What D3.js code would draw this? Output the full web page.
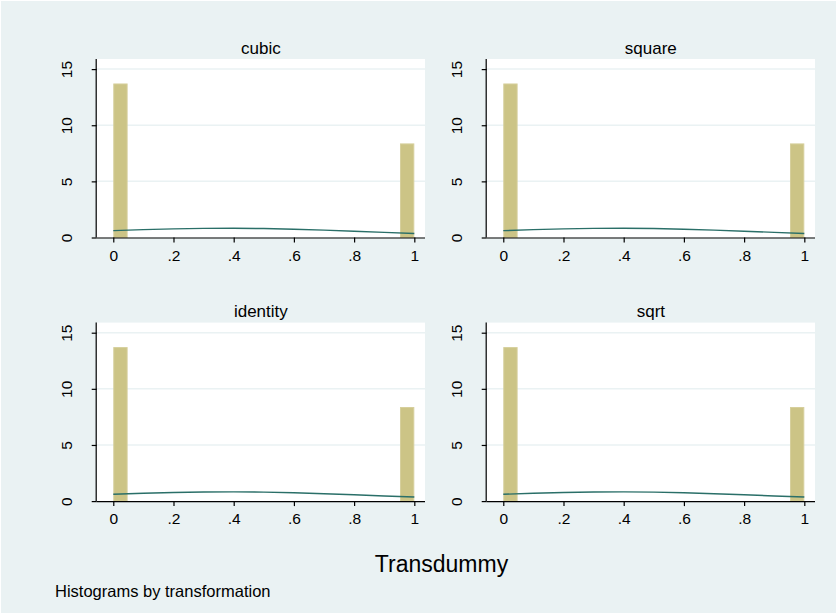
<!DOCTYPE html>
<html>
<head>
<meta charset="utf-8">
<script src="https://cdn.jsdelivr.net/npm/d3@7"></script>
<style>
html,body{margin:0;padding:0;background:#fff;}
svg{display:block;}
text{font-family:"Liberation Sans", Arial, sans-serif; fill:#000;}
</style>
</head>
<body>
<svg id="chart" width="836" height="613"></svg>
<script>
// ---- data ----
const transformations = ["cubic", "square", "identity", "sqrt"];
const binStarts = [0, 0.9524];
const binWidth = 0.0476;
const densities = {
  cubic:    [13.72, 8.38],
  square:   [13.72, 8.38],
  identity: [13.72, 8.38],
  sqrt:     [13.72, 8.38]
};
const normalX = [0, 0.1, 0.2, 0.3, 0.4, 0.5, 0.6, 0.7, 0.8, 0.9, 1.0];
const normalY = [0.61, 0.70, 0.77, 0.81, 0.82, 0.80, 0.74, 0.66, 0.56, 0.46, 0.36];
const xTicks = [0, 0.2, 0.4, 0.6, 0.8, 1];
const xTickLabels = ["0", ".2", ".4", ".6", ".8", "1"];
const yTicks = [0, 5, 10, 15];
const yTickLabels = ["0", "5", "10", "15"];
const xTitle = "Transdummy";
const note = "Histograms by transformation";

// ---- layout ----
const W = 836, H = 613;
const svg = d3.select("#chart");
svg.append("rect").attr("x", 0).attr("y", 0).attr("width", W).attr("height", H).attr("fill", "#fff");
svg.append("rect").attr("x", 1).attr("y", 1).attr("width", W - 1).attr("height", H - 1).attr("fill", "#EAF2F3");

const colLeft = [96.7, 486.7];
const plotW = 328.3;
const rowTop = [59, 322.6];
const plotH = 178.5;

const barFill = "#CCC486", barStroke = "#D6CF9C", lineColor = "#2A6F68", gridColor = "#EAF2F3";
const tickFont = 15.5;

transformations.forEach((name, i) => {
  const col = i % 2, row = Math.floor(i / 2);
  const left = colLeft[col], top = rowTop[row];
  const x = d3.scaleLinear().domain([-0.0551, 1.0355]).range([left, left + plotW]);
  const y = d3.scaleLinear().domain([0, 15.9]).range([top + plotH, top]);
  const g = svg.append("g");

  // plot region
  g.append("rect").attr("x", left).attr("y", top).attr("width", plotW).attr("height", plotH).attr("fill", "#fff");

  // gridlines
  g.selectAll(".grid").data(yTicks.filter(d => d > 0)).enter().append("line")
    .attr("x1", left).attr("x2", left + plotW)
    .attr("y1", d => y(d)).attr("y2", d => y(d))
    .attr("stroke", gridColor).attr("stroke-width", 1.5);

  // bars
  const vals = densities[name];
  g.selectAll(".bar").data(binStarts.map((b, k) => ({b, v: vals[k]}))).enter().append("rect")
    .attr("x", d => x(d.b) + 0.5)
    .attr("width", d => x(d.b + binWidth) - x(d.b) - 1)
    .attr("y", d => y(d.v) + 0.5)
    .attr("height", d => y(0) - y(d.v) - 0.5)
    .attr("fill", barFill).attr("stroke", barStroke).attr("stroke-width", 1);

  // normal density line
  const line = d3.line().x(d => x(d[0])).y(d => y(d[1]));
  g.append("path").datum(normalX.map((v, k) => [v, normalY[k]]))
    .attr("d", line).attr("fill", "none").attr("stroke", lineColor).attr("stroke-width", 1.4);

  // axes
  const xAxis = d3.axisBottom(x).tickValues(xTicks).tickFormat((d, k) => xTickLabels[k]).tickSize(5).tickPadding(7);
  const xa = g.append("g").attr("transform", `translate(0,${top + plotH})`).call(xAxis);
  xa.select(".domain").attr("d", `M${left},0.5H${left + plotW}`).attr("stroke", "#000").attr("stroke-width", 1.2);
  xa.selectAll(".tick line").attr("stroke", "#000").attr("stroke-width", 1.2);
  xa.selectAll(".tick text").attr("font-size", tickFont).attr("font-family", "Liberation Sans, Arial, sans-serif").attr("fill", "#000");

  const yAxis = d3.axisLeft(y).tickValues(yTicks).tickFormat((d, k) => yTickLabels[k]).tickSize(5).tickPadding(4);
  const ya = g.append("g").attr("transform", `translate(${left},0)`).call(yAxis);
  ya.select(".domain").attr("d", `M-0.5,${top}V${top + plotH}`).attr("stroke", "#000").attr("stroke-width", 1.2);
  ya.selectAll(".tick line").attr("stroke", "#000").attr("stroke-width", 1.2);
  ya.selectAll(".tick text")
    .attr("font-size", tickFont).attr("font-family", "Liberation Sans, Arial, sans-serif").attr("fill", "#000")
    .attr("x", null).attr("dy", null)
    .attr("text-anchor", "middle")
    .attr("transform", "translate(-24.5,0) rotate(-90)");

  // subtitle
  g.append("text").attr("x", left + plotW / 2).attr("y", top - 5.5)
    .attr("text-anchor", "middle").attr("font-size", 17).text(name);
});

svg.append("text").attr("x", 441.5).attr("y", 572).attr("text-anchor", "middle").attr("font-size", 23).text(xTitle);
svg.append("text").attr("x", 55).attr("y", 597).attr("font-size", 16.5).text(note);
</script>
</body>
</html>
